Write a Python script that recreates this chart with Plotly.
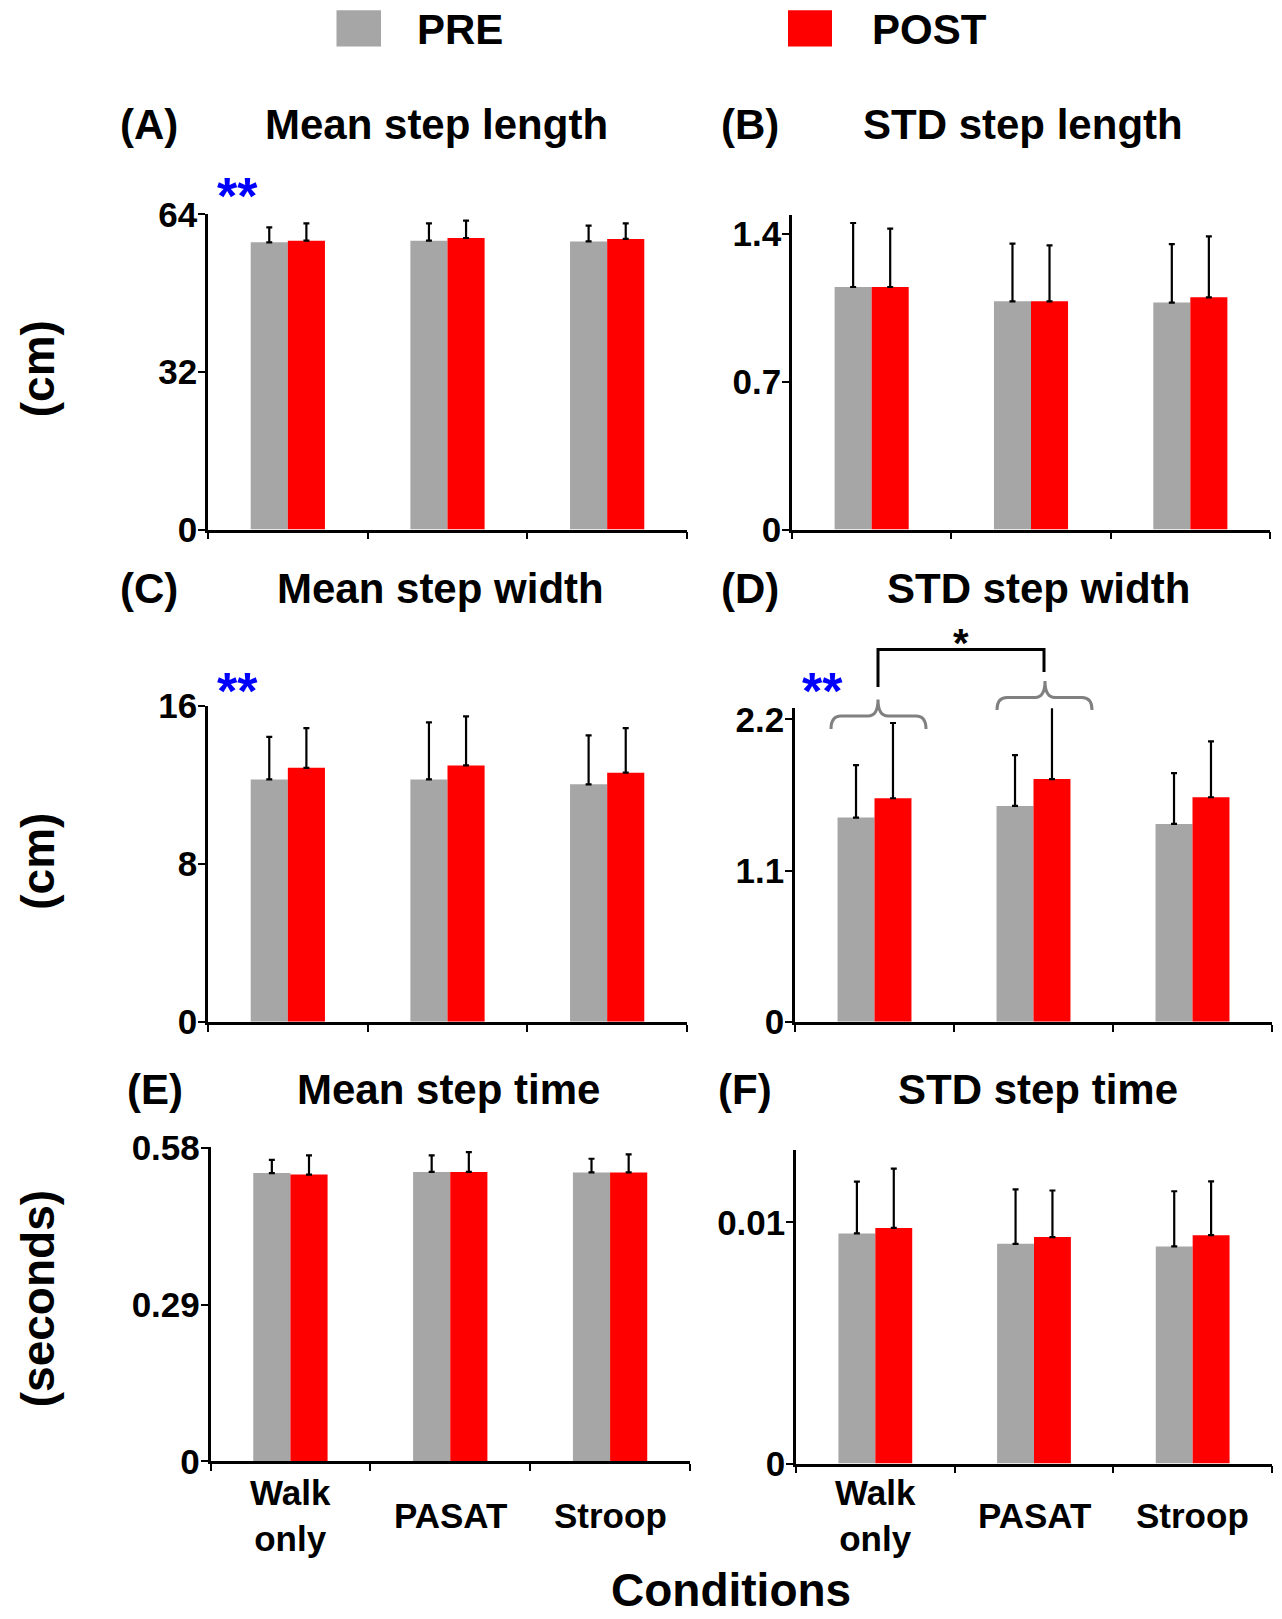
import plotly.graph_objects as go

# ---------------- data ----------------
categories = ["Walk<br>only", "PASAT", "Stroop"]
series_names = ["PRE", "POST"]

# (A) Mean step length (cm)
A_pre = [58.3, 58.65, 58.5]
A_pre_sd = [3.06, 3.52, 3.2]
A_post = [58.65, 59.19, 58.99]
A_post_sd = [3.52, 3.51, 3.18]

# (B) STD step length (cm)
B_pre = [1.149, 1.081, 1.075]
B_pre_sd = [0.303, 0.273, 0.277]
B_post = [1.149, 1.081, 1.100]
B_post_sd = [0.276, 0.265, 0.289]

# (C) Mean step width (cm)
C_pre = [12.28, 12.28, 12.03]
C_pre_sd = [2.16, 2.89, 2.48]
C_post = [12.87, 12.99, 12.62]
C_post_sd = [2.01, 2.48, 2.26]

# (D) STD step width (cm)
D_pre = [1.485, 1.570, 1.439]
D_pre_sd = [0.382, 0.370, 0.369]
D_post = [1.626, 1.765, 1.633]
D_post_sd = [0.547, 0.537, 0.406]

# (E) Mean step time (s)
E_pre = [0.5337, 0.536, 0.535]
E_pre_sd = [0.0247, 0.0305, 0.0253]
E_post = [0.531, 0.536, 0.535]
E_post_sd = [0.0355, 0.0367, 0.0333]

# (F) STD step time (s)
F_pre = [0.00954, 0.00911, 0.00900]
F_pre_sd = [0.00215, 0.00226, 0.00229]
F_post = [0.00977, 0.00939, 0.00947]
F_post_sd = [0.00246, 0.00193, 0.00223]

letters = ["(A)", "(B)", "(C)", "(D)", "(E)", "(F)"]
titles = ["Mean step length", "STD step length", "Mean step width",
          "STD step width", "Mean step time", "STD step time"]
ytickvals = [[0, 32, 64], [0, 0.7, 1.4], [0, 8, 16],
             [0, 1.1, 2.2], [0, 0.29, 0.58], [0, 0.01]]
yticktext = [["0", "32", "64"], ["0", "0.7", "1.4"], ["0", "8", "16"],
             ["0", "1.1", "2.2"], ["0", "0.29", "0.58"], ["0", "0.01"]]
yranges_top = [64, 1.49, 16, 2.28, 0.583, 0.013]
y_labels = ["(cm)", "(cm)", "(seconds)"]
x_title = "Conditions"

PRE_COLOR = "#a6a6a6"
POST_COLOR = "#ff0000"
FONT = "Liberation Sans, Arial, Helvetica, sans-serif"

W, H = 1282, 1619


def px(x):
    return x / W


def py(y):
    return 1 - y / H


# panel geometry in pixels: x_left, x_right, y_top, y_bottom
geom = [
    (208, 687, 214.3, 529.5),
    (792, 1270, 215.0, 529.5),
    (208, 687, 706.0, 1021.8),
    (795, 1272, 708.3, 1021.8),
    (210.5, 690, 1146.5, 1461.3),
    (796, 1272, 1150.0, 1463.5),
]

pre_vals = [A_pre, B_pre, C_pre, D_pre, E_pre, F_pre]
pre_sds = [A_pre_sd, B_pre_sd, C_pre_sd, D_pre_sd, E_pre_sd, F_pre_sd]
post_vals = [A_post, B_post, C_post, D_post, E_post, F_post]
post_sds = [A_post_sd, B_post_sd, C_post_sd, D_post_sd, E_post_sd, F_post_sd]

fig = go.Figure()
layout = {}
xpos = [0, 1, 2]
for i in range(6):
    n = "" if i == 0 else str(i + 1)
    for name, vals, sds, col in [("PRE", pre_vals[i], pre_sds[i], PRE_COLOR),
                                 ("POST", post_vals[i], post_sds[i], POST_COLOR)]:
        fig.add_trace(go.Bar(
            x=xpos, y=vals, name=name, marker=dict(color=col, line=dict(width=0)),
            error_y=dict(type="data", symmetric=False, array=sds,
                         arrayminus=[0] * len(sds), color="black",
                         thickness=2.2, width=3),
            xaxis="x" + n, yaxis="y" + n, showlegend=False,
        ))
    x0, x1, yt, yb = geom[i]
    layout["xaxis" + n] = dict(
        domain=[px(x0), px(x1)], range=[-0.5, 2.5], anchor="y" + n,
        tickvals=[-0.5, 0.5, 1.5, 2.5], showticklabels=False,
        ticks="outside", ticklen=7, tickwidth=2, tickcolor="black",
        showline=True, linecolor="black", linewidth=2.5,
        showgrid=False, zeroline=False, fixedrange=True, automargin=False,
    )
    layout["yaxis" + n] = dict(
        domain=[py(yb), py(yt)], range=[0, yranges_top[i]], anchor="x" + n,
        tickvals=ytickvals[i], ticktext=yticktext[i],
        ticks="outside", ticklen=7, tickwidth=2, tickcolor="black",
        showline=True, linecolor="black", linewidth=2.5,
        showgrid=False, zeroline=False, fixedrange=True, automargin=False,
        ticklabelstandoff=-6,
        tickfont=dict(family=FONT, size=35, color="black", weight="bold"),
    )

annotations = []


def txt(x, y, text, size, color="black", xanchor="center", yanchor="middle",
        angle=0, xref="paper", xval=None):
    annotations.append(dict(
        x=xval if xval is not None else px(x), y=py(y), xref=xref, yref="paper",
        text=text, showarrow=False, xanchor=xanchor, yanchor=yanchor,
        textangle=angle,
        font=dict(family=FONT, size=size, color=color, weight="bold"),
    ))


# panel titles
letter_pos = [(148.6, 124.9), (750.4, 124.9), (148.6, 588.4),
              (750.4, 588.4), (154.8, 1089), (745.2, 1089)]
title_pos = [436.6, 1022.9, 440.7, 1038.4, 448.0, 1038.4]
for i in range(6):
    lx, ly = letter_pos[i]
    txt(lx, ly, letters[i], 42)
    txt(title_pos[i], ly, titles[i], 42)

# y labels
for lbl, yc in zip(y_labels, [368.5, 861, 1298.5]):
    txt(37.7, yc, lbl, 46, angle=-90)

# x title (anchored to the bottom edge so it stays inside the page)
txt(730.8, 1617.5, x_title, 46, yanchor="bottom")

# category labels (bottom row)
for n in ["5", "6"]:
    for k, c in enumerate(categories):
        txt(0, 1515, c, 35, xref="x" + n, xval=k)

# significance markers
txt(237.4, 196.0, "**", 52, color="#0000ff")
txt(237.4, 690.5, "**", 52, color="#0000ff")
txt(822.7, 690.5, "**", 52, color="#0000ff")
txt(961.0, 643.0, "*", 40)

# legend
shapes = []
legend_items = [(336.5, 381, 415, "PRE", PRE_COLOR), (788, 832, 870, "POST", POST_COLOR)]
for r0, r1, tx, label, col in legend_items:
    shapes.append(dict(type="rect", xref="paper", yref="paper",
                       x0=px(r0), x1=px(r1), y0=py(46.4), y1=py(10.3),
                       fillcolor=col, line=dict(width=0)))
    txt(tx, 29, label, 42, xanchor="left")


def path(points_cmds):
    s = ""
    for cmd, pts in points_cmds:
        s += cmd + " " + " ".join(f"{px(a):.5f},{py(b):.5f}" for a, b in pts) + " "
    return s.strip()


def brace(x0, x1, xc, yend, yh, ypeak, r=10):
    return path([
        ("M", [(x0, yend)]),
        ("Q", [(x0, yh), (x0 + r, yh)]),
        ("L", [(xc - r, yh)]),
        ("Q", [(xc, yh), (xc, ypeak)]),
        ("Q", [(xc, yh), (xc + r, yh)]),
        ("L", [(x1 - r, yh)]),
        ("Q", [(x1, yh), (x1, yend)]),
    ])


shapes.append(dict(type="path", xref="paper", yref="paper",
                   path=brace(831, 926, 878, 729, 716, 699.5),
                   line=dict(color="#808080", width=3)))
shapes.append(dict(type="path", xref="paper", yref="paper",
                   path=brace(997, 1092, 1045, 710, 697.5, 681),
                   line=dict(color="#808080", width=3)))
shapes.append(dict(type="path", xref="paper", yref="paper",
                   path=path([("M", [(878, 687)]), ("L", [(878, 649.5)]),
                              ("L", [(1044, 649.5)]), ("L", [(1044, 672)])]),
                   line=dict(color="black", width=3)))

fig.update_layout(
    width=W, height=H, autosize=False,
    margin=dict(l=0, r=0, t=0, b=0, autoexpand=False),
    paper_bgcolor="white", plot_bgcolor="white",
    barmode="group", bargap=0.535, bargroupgap=0,
    showlegend=False,
    annotations=annotations, shapes=shapes,
    font=dict(family=FONT, color="black"),
    **layout,
)

fig.write_html("out.html", config={"displayModeBar": False},
               post_script="document.body.style.margin='0';")
